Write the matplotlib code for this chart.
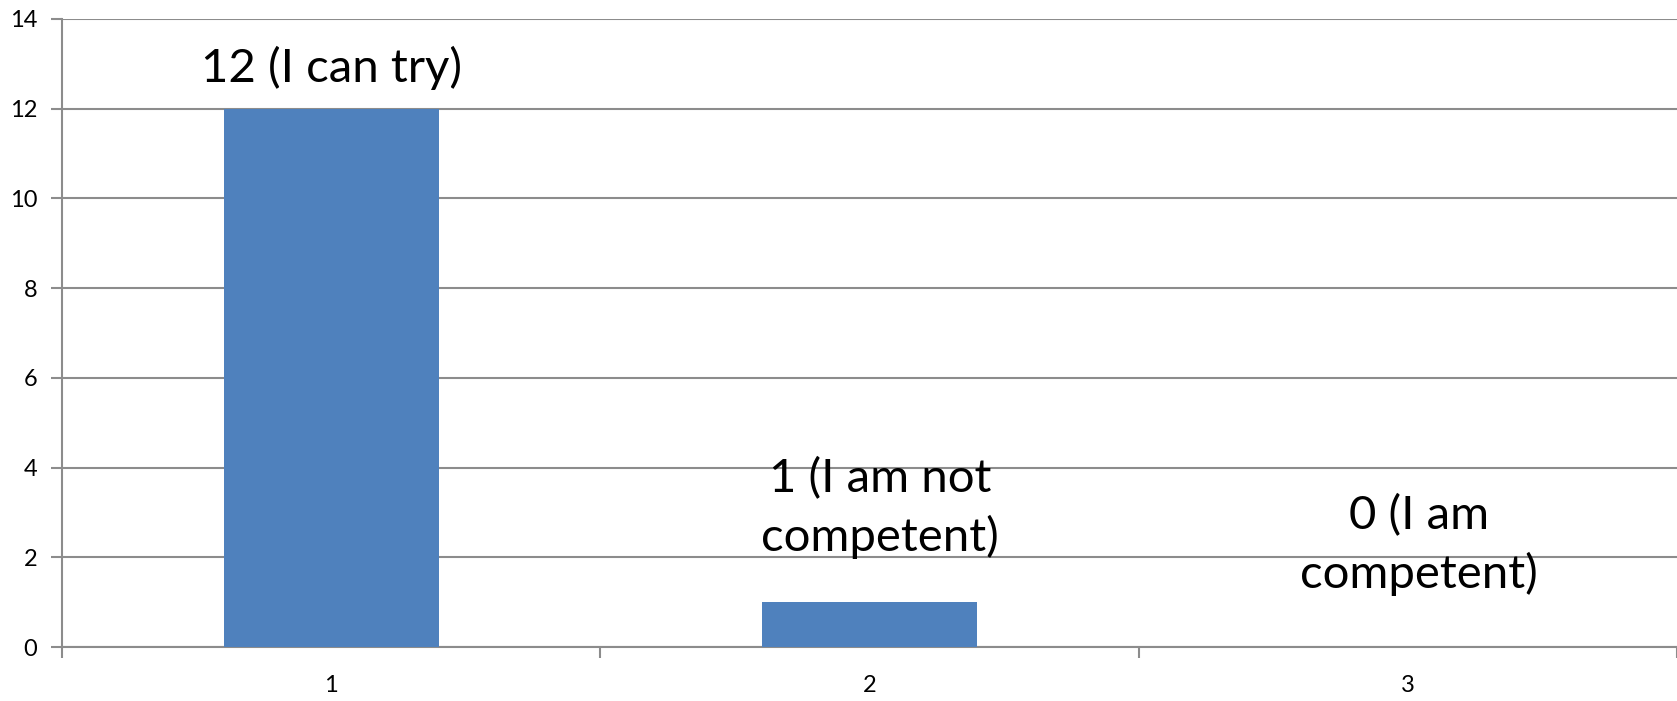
import numpy as np
import matplotlib.pyplot as plt
from matplotlib.ticker import FixedLocator

categories = ['1', '2', '3']
values = [12, 1, 0]
labels = ['12 (I can try)', '1 (I am not\ncompetent)', '0 (I am\ncompetent)']
label_y = [12.6, 2.15, 1.32]

plt.rcParams['font.family'] = ['Lato', 'DejaVu Sans']

fig = plt.figure(figsize=(16.77, 7.01), dpi=100)
ax = fig.add_axes([0.037, 0.077, 0.963, 0.896])

x = np.arange(len(categories))
ax.bar(x, values, width=0.4, color='#4F81BD', zorder=3)

ax.set_xlim(-0.5, len(categories) - 0.5)
ax.set_ylim(0, 14)
ax.set_yticks(np.arange(0, 15, 2))
ax.grid(axis='y', color='#8C8C8C', linewidth=1.5, zorder=0)

ax.set_xticks(x)
ax.set_xticklabels(categories)
ax.xaxis.set_minor_locator(FixedLocator(np.arange(-0.5, len(categories), 1.0)))
ax.tick_params(axis='x', which='major', length=0, pad=20, labelsize=17)
ax.tick_params(axis='x', which='minor', length=8, width=1.5, color='#8C8C8C')
ax.tick_params(axis='y', length=8, width=1.5, color='#8C8C8C', pad=10, labelsize=17)

for s in ['top', 'right']:
    ax.spines[s].set_visible(False)
for s in ['left', 'bottom']:
    ax.spines[s].set_color('#8C8C8C')
    ax.spines[s].set_linewidth(1.5)

for i, (lab, ly) in enumerate(zip(labels, label_y)):
    ax.text(x[i] + 0.02 * (i > 0), ly, lab, ha='center', va='baseline',
            fontsize=34, linespacing=1.4, zorder=4)

plt.savefig('out.png', dpi=100)
